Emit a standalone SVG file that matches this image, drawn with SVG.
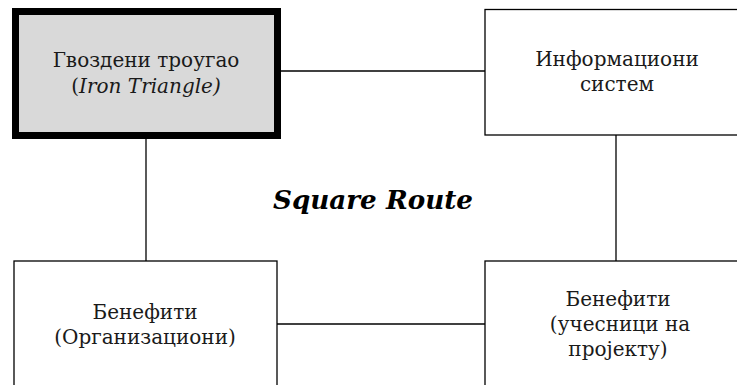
<svg xmlns="http://www.w3.org/2000/svg" width="737" height="385" viewBox="0 0 737 385">
  <style>
    .box { fill: #ffffff; stroke: #000000; stroke-width: 1.3; }
    .core { fill: #d9d9d9; stroke: #000000; stroke-width: 7; }
    .link { stroke: #000000; stroke-width: 1.3; fill: none; }
    .lbl { font-family: "DejaVu Serif", "Liberation Serif", serif; font-size: 20px; fill: #1a1a1a; text-anchor: middle; }
    .title { font-family: "DejaVu Serif", "Liberation Serif", serif; font-size: 25.5px; font-weight: bold; font-style: italic; fill: #000000; text-anchor: middle; }
  </style>

  <!-- connectors between the four boxes -->
  <g id="connectors">
    <line class="link" x1="281" y1="71" x2="485" y2="71"/>
    <line class="link" x1="146" y1="139" x2="146" y2="261"/>
    <line class="link" x1="616" y1="135" x2="616" y2="261"/>
    <line class="link" x1="277" y1="324" x2="485" y2="324"/>
  </g>

  <g id="iron-triangle">
    <rect class="core" x="15.5" y="11.5" width="262" height="124"/>
    <text class="lbl" x="146" y="67">Гвоздени троугао</text>
    <text class="lbl" x="146" y="93">(<tspan font-style="italic">Iron Triangle)</tspan></text>
  </g>

  <g id="information-system">
    <rect class="box" x="485" y="9.5" width="260" height="125.5"/>
    <text class="lbl" x="617" y="66">Информациони</text>
    <text class="lbl" x="617" y="91">систем</text>
  </g>

  <g id="benefits-organization">
    <rect class="box" x="14" y="261" width="263" height="140"/>
    <text class="lbl" x="145" y="319">Бенефити</text>
    <text class="lbl" x="145" y="344">(Организациони)</text>
  </g>

  <g id="benefits-participants">
    <rect class="box" x="485" y="261" width="260" height="140"/>
    <text class="lbl" x="618" y="306">Бенефити</text>
    <text class="lbl" x="620" y="331">(учесници на</text>
    <text class="lbl" x="618" y="356">пројекту)</text>
  </g>

  <text class="title" x="373" y="209" textLength="200" lengthAdjust="spacingAndGlyphs">Square Route</text>
</svg>
